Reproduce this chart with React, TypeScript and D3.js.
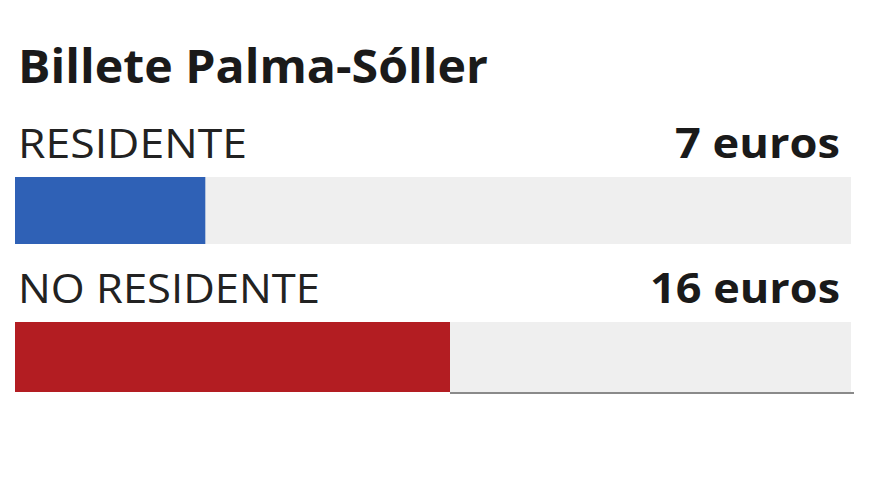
import React from "react";
import * as d3 from "d3";

const title = "Billete Palma-Sóller";
const categories = ["RESIDENTE", "NO RESIDENTE"];
const values = [7, 16];
const valueLabels = ["7 euros", "16 euros"];
const colors = ["#2f61b6", "#b31d22"];
const scaleMax = 30.75;

const W = 880;
const H = 495;

export default function App() {
  const x = d3.scaleLinear().domain([0, scaleMax]).range([15, 851]);
  const rowTop = [125, 270];
  const font = "'Open Sans', 'Noto Sans', sans-serif";
  return (
    <div style={{ position: "fixed", left: 0, top: 0 }}>
      <svg width={W} height={H} style={{ display: "block", background: "#fff" }}>
        <text
          x={18}
          y={83}
          fontFamily={font}
          fontWeight={700}
          fontSize={47}
          fill="#1a1a1a"
          textLength={470}
          lengthAdjust="spacingAndGlyphs"
        >
          {title}
        </text>
        {categories.map((c, i) => {
          const top = rowTop[i];
          const barY = top + 52;
          const barH = i === 0 ? 67 : 70;
          return (
            <g key={c}>
              <text
                x={18}
                y={top + 33}
                fontFamily={font}
                fontWeight={400}
                fontSize={41}
                fill="#222"
                textLength={i === 0 ? 229 : 302}
                lengthAdjust="spacingAndGlyphs"
              >
                {c}
              </text>
              <text
                x={840}
                y={top + 33}
                textAnchor="end"
                fontFamily={font}
                fontWeight={700}
                fontSize={42}
                fill="#1a1a1a"
                textLength={i === 0 ? 165 : 190}
                lengthAdjust="spacingAndGlyphs"
              >
                {valueLabels[i]}
              </text>
              <rect
                x={x(0)}
                y={barY}
                width={x(scaleMax) - x(0)}
                height={barH}
                fill="#efefef"
              />
              <rect
                x={x(0)}
                y={barY}
                width={x(values[i]) - x(0)}
                height={barH}
                fill={colors[i]}
              />
              {i === 1 && (
                <line
                  x1={x(values[i])}
                  x2={x(scaleMax) + 3}
                  y1={barY + barH + 1}
                  y2={barY + barH + 1}
                  stroke="#8a8a8a"
                  strokeWidth={2}
                />
              )}
            </g>
          );
        })}
      </svg>
    </div>
  );
}
